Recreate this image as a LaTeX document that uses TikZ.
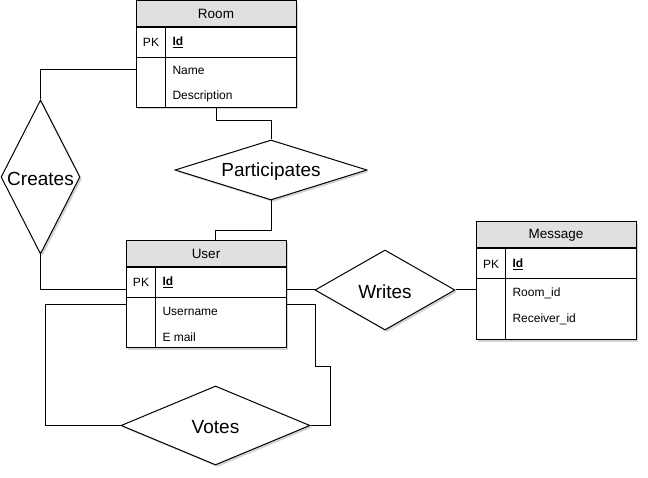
\documentclass[tikz,border=0pt]{standalone}
\usepackage{fontspec}
\setmainfont{Liberation Sans}
\usepackage{tikz}
\usetikzlibrary{shapes.geometric,shadows}

\definecolor{headgray}{HTML}{E0E0E0}

\begin{document}
\begin{tikzpicture}[x=1pt, y=-1pt, line width=1pt,
    softshadow/.style ={drop shadow={shadow xshift=2pt, shadow yshift=-2pt, fill=gray, opacity=0.35}},
    table/.style ={rectangle, draw, fill=white, minimum width=160pt, inner sep=0pt, softshadow},
    header/.style ={rectangle, draw, fill=headgray, minimum width=160pt, minimum height=26pt,
        inner sep=0pt, anchor=north, font=\fontsize{13.5}{16}\selectfont},
    keyrow/.style ={rectangle, draw, minimum width=160pt, minimum height=30pt, inner sep=0pt, anchor=north},
    key/.style ={inner sep=0pt, font=\fontsize{12}{14}\selectfont},
    attr/.style ={inner sep=0pt, anchor=west, font=\fontsize{12}{14}\selectfont},
    relation/.style ={diamond, draw, fill=white, inner sep=0pt, softshadow,
        label={[font=\fontsize{19}{22}\selectfont, yshift=-1.5pt]center:#1}}]
   \useasboundingbox (0,0) rectangle (648,478);

   \node[table, minimum height=106.5pt] (R) at (216,54.25) {};
   \node[header] (RH) at (R.north) {Room};
   \node[keyrow] (RP) at (RH.south) {};
   \draw ([xshift=30pt]RH.south west) -- ([xshift=30pt]R.south west);
   \node[key]  (RK) at (151,42) {PK};
   \node[attr] (RI) at (172,42) {\underline{\textbf{Id}}};
   \node[attr] (RN) at (172,70) {Name};
   \node[attr] (RD) at (172,96) {Description};

   \node[table, minimum height=107pt] (U) at (206,294.5) {};
   \node[header] (UH) at (U.north) {User};
   \node[keyrow] (UP) at (UH.south) {};
   \draw ([xshift=30pt]UH.south west) -- ([xshift=30pt]U.south west);
   \node[key]  (UK) at (141,282) {PK};
   \node[attr] (UI) at (162,282) {\underline{\textbf{Id}}};
   \node[attr] (UN) at (162,311) {Username};
   \node[attr] (UE) at (162,337) {E mail};

   \node[table, minimum height=118pt] (M) at (556,281) {};
   \node[header] (MH) at (M.north) {Message};
   \node[keyrow] (MP) at (MH.south) {};
   \draw ([xshift=30pt]MH.south west) -- ([xshift=30pt]M.south west);
   \node[key]  (MK) at (491,264) {PK};
   \node[attr] (MI) at (512,264) {\underline{\textbf{Id}}};
   \node[attr] (MR) at (512,293) {Room\_id};
   \node[attr] (MV) at (512,319) {Receiver\_id};

   \node[relation=Participates, minimum width=192pt, minimum height=60pt] (P) at (271,170) {};
   \node[relation=Creates, minimum width=79pt, minimum height=154pt] (C) at (40.5,177) {};
   \node[relation=Writes, minimum width=140pt, minimum height=80pt] (W) at (385,290) {};
   \node[relation=Votes, minimum width=189pt, minimum height=79pt] (V) at (215.5,425.5) {};

   \draw (R.south) -- ++(0,13) -| (P.north);
   \draw (P.south) -- ++(0,30) -| ([xshift=9pt]U.north);
   \draw (RN -| R.west) -| (C.north);
   \draw (C.south) |- (U.west |- W.west);
   \draw (U.east |- W.west) -- (W.west);
   \draw (W.east) -- (M.west |- W.east);
   \draw ([yshift=-10.5pt]U.east) -- ++(29,0) -- ++(0,61) -- ++(15,0) |- (V.east);
   \draw ([yshift=-10.5pt]U.west) -- ++(-80,0) |- (V.west);

 \end{tikzpicture}
\end{document}
